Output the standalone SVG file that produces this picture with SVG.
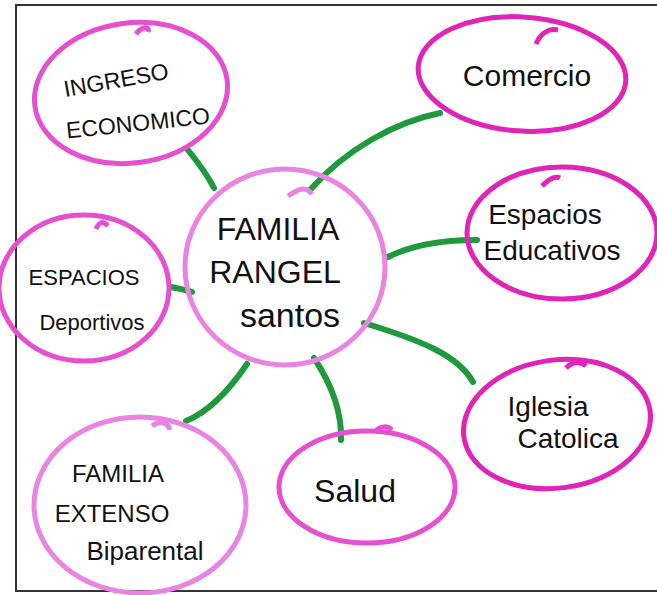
<svg xmlns="http://www.w3.org/2000/svg" width="657" height="595" viewBox="0 0 657 595">
  <style>
    .ring { fill: none; stroke: #e54fd0; stroke-width: 5; }
    .ring-dark { fill: none; stroke: #e024b8; stroke-width: 5; }
    .ring-soft { fill: none; stroke: #ea84e2; stroke-width: 5; }
    .link { fill: none; stroke: #1e9a3c; stroke-width: 6; stroke-linecap: round; }
    .label { font-family: "Liberation Sans", "DejaVu Sans", sans-serif; fill: #111; text-anchor: middle; }
    .frame { fill: none; stroke: #333; stroke-width: 2; }
  </style>

  <rect x="0" y="0" width="657" height="595" fill="#ffffff"/>
  <!-- sheet border -->
  <path class="frame" d="M15 5 H657 M16 5 V590 M15 591 H657"/>

  <!-- connectors -->
  <g id="connectors">
    <path class="link" d="M188 150 C200 165 208 176 214 188"/>
    <path class="link" d="M440 113 C395 122 345 150 311 189"/>
    <path class="link" d="M477 240 C440 240 410 246 388 257"/>
    <path class="link" d="M171 287 C180 289 186 290 192 292"/>
    <path class="link" d="M364 323 C420 340 458 355 473 382"/>
    <path class="link" d="M314 358 C330 382 342 410 341 440"/>
    <path class="link" d="M247 364 C228 392 208 412 186 421"/>
  </g>

  <g id="ingreso-economico">
    <ellipse class="ring" cx="131" cy="93" rx="97" ry="70" transform="rotate(-8 131 93)"/>
    <path class="ring" d="M136 34 C142 26 150 26 148 32"/>
    <text class="label" font-size="23" transform="rotate(-10 116 80)" x="116" y="88">INGRESO</text>
    <text class="label" font-size="23" transform="rotate(-6 138 123)" x="138" y="131">ECONOMICO</text>
  </g>

  <g id="comercio">
    <ellipse class="ring-dark" cx="522" cy="74" rx="104" ry="57" transform="rotate(4 522 74)"/>
    <path class="ring-dark" d="M536 44 C540 34 548 28 558 30"/>
    <text class="label" font-size="30" x="527" y="86">Comercio</text>
  </g>

  <g id="espacios-educativos">
    <ellipse class="ring-dark" cx="562" cy="233" rx="95" ry="66"/>
    <path class="ring-dark" d="M542 186 C550 178 556 176 560 178"/>
    <text class="label" font-size="28" x="545" y="224">Espacios</text>
    <text class="label" font-size="28" x="552" y="260">Educativos</text>
  </g>

  <g id="familia-rangel-santos">
    <ellipse class="ring-soft" cx="285" cy="267" rx="100" ry="98"/>
    <path class="ring-soft" d="M288 196 C300 188 306 186 312 194"/>
    <text class="label" font-size="32" x="278" y="240">FAMILIA</text>
    <text class="label" font-size="32" x="275" y="283">RANGEL</text>
    <text class="label" font-size="34" x="290" y="327">santos</text>
  </g>

  <g id="espacios-deportivos">
    <ellipse class="ring" cx="84" cy="288" rx="85" ry="73"/>
    <path class="ring" d="M96 229 C100 220 104 222 108 226"/>
    <text class="label" font-size="22" x="84" y="285">ESPACIOS</text>
    <text class="label" font-size="22" x="92" y="330">Deportivos</text>
  </g>

  <g id="iglesia-catolica">
    <ellipse class="ring-dark" cx="557" cy="424" rx="94" ry="64" transform="rotate(-8 557 424)"/>
    <path class="ring-dark" d="M566 368 C574 360 582 362 586 366"/>
    <text class="label" font-size="28" x="548" y="416">Iglesia</text>
    <text class="label" font-size="28" x="568" y="448">Catolica</text>
  </g>

  <g id="familia-extenso-biparental">
    <ellipse class="ring-soft" cx="140" cy="505" rx="106" ry="88"/>
    <path class="ring-soft" d="M152 426 C160 420 168 422 170 430"/>
    <text class="label" font-size="24" x="118" y="482">FAMILIA</text>
    <text class="label" font-size="24" x="112" y="522">EXTENSO</text>
    <text class="label" font-size="26" x="145" y="560">Biparental</text>
  </g>

  <g id="salud">
    <ellipse class="ring" cx="367" cy="487" rx="88" ry="56"/>
    <path class="ring" d="M375 432 C380 425 388 426 392 430"/>
    <text class="label" font-size="32" x="355" y="502">Salud</text>
  </g>
</svg>
